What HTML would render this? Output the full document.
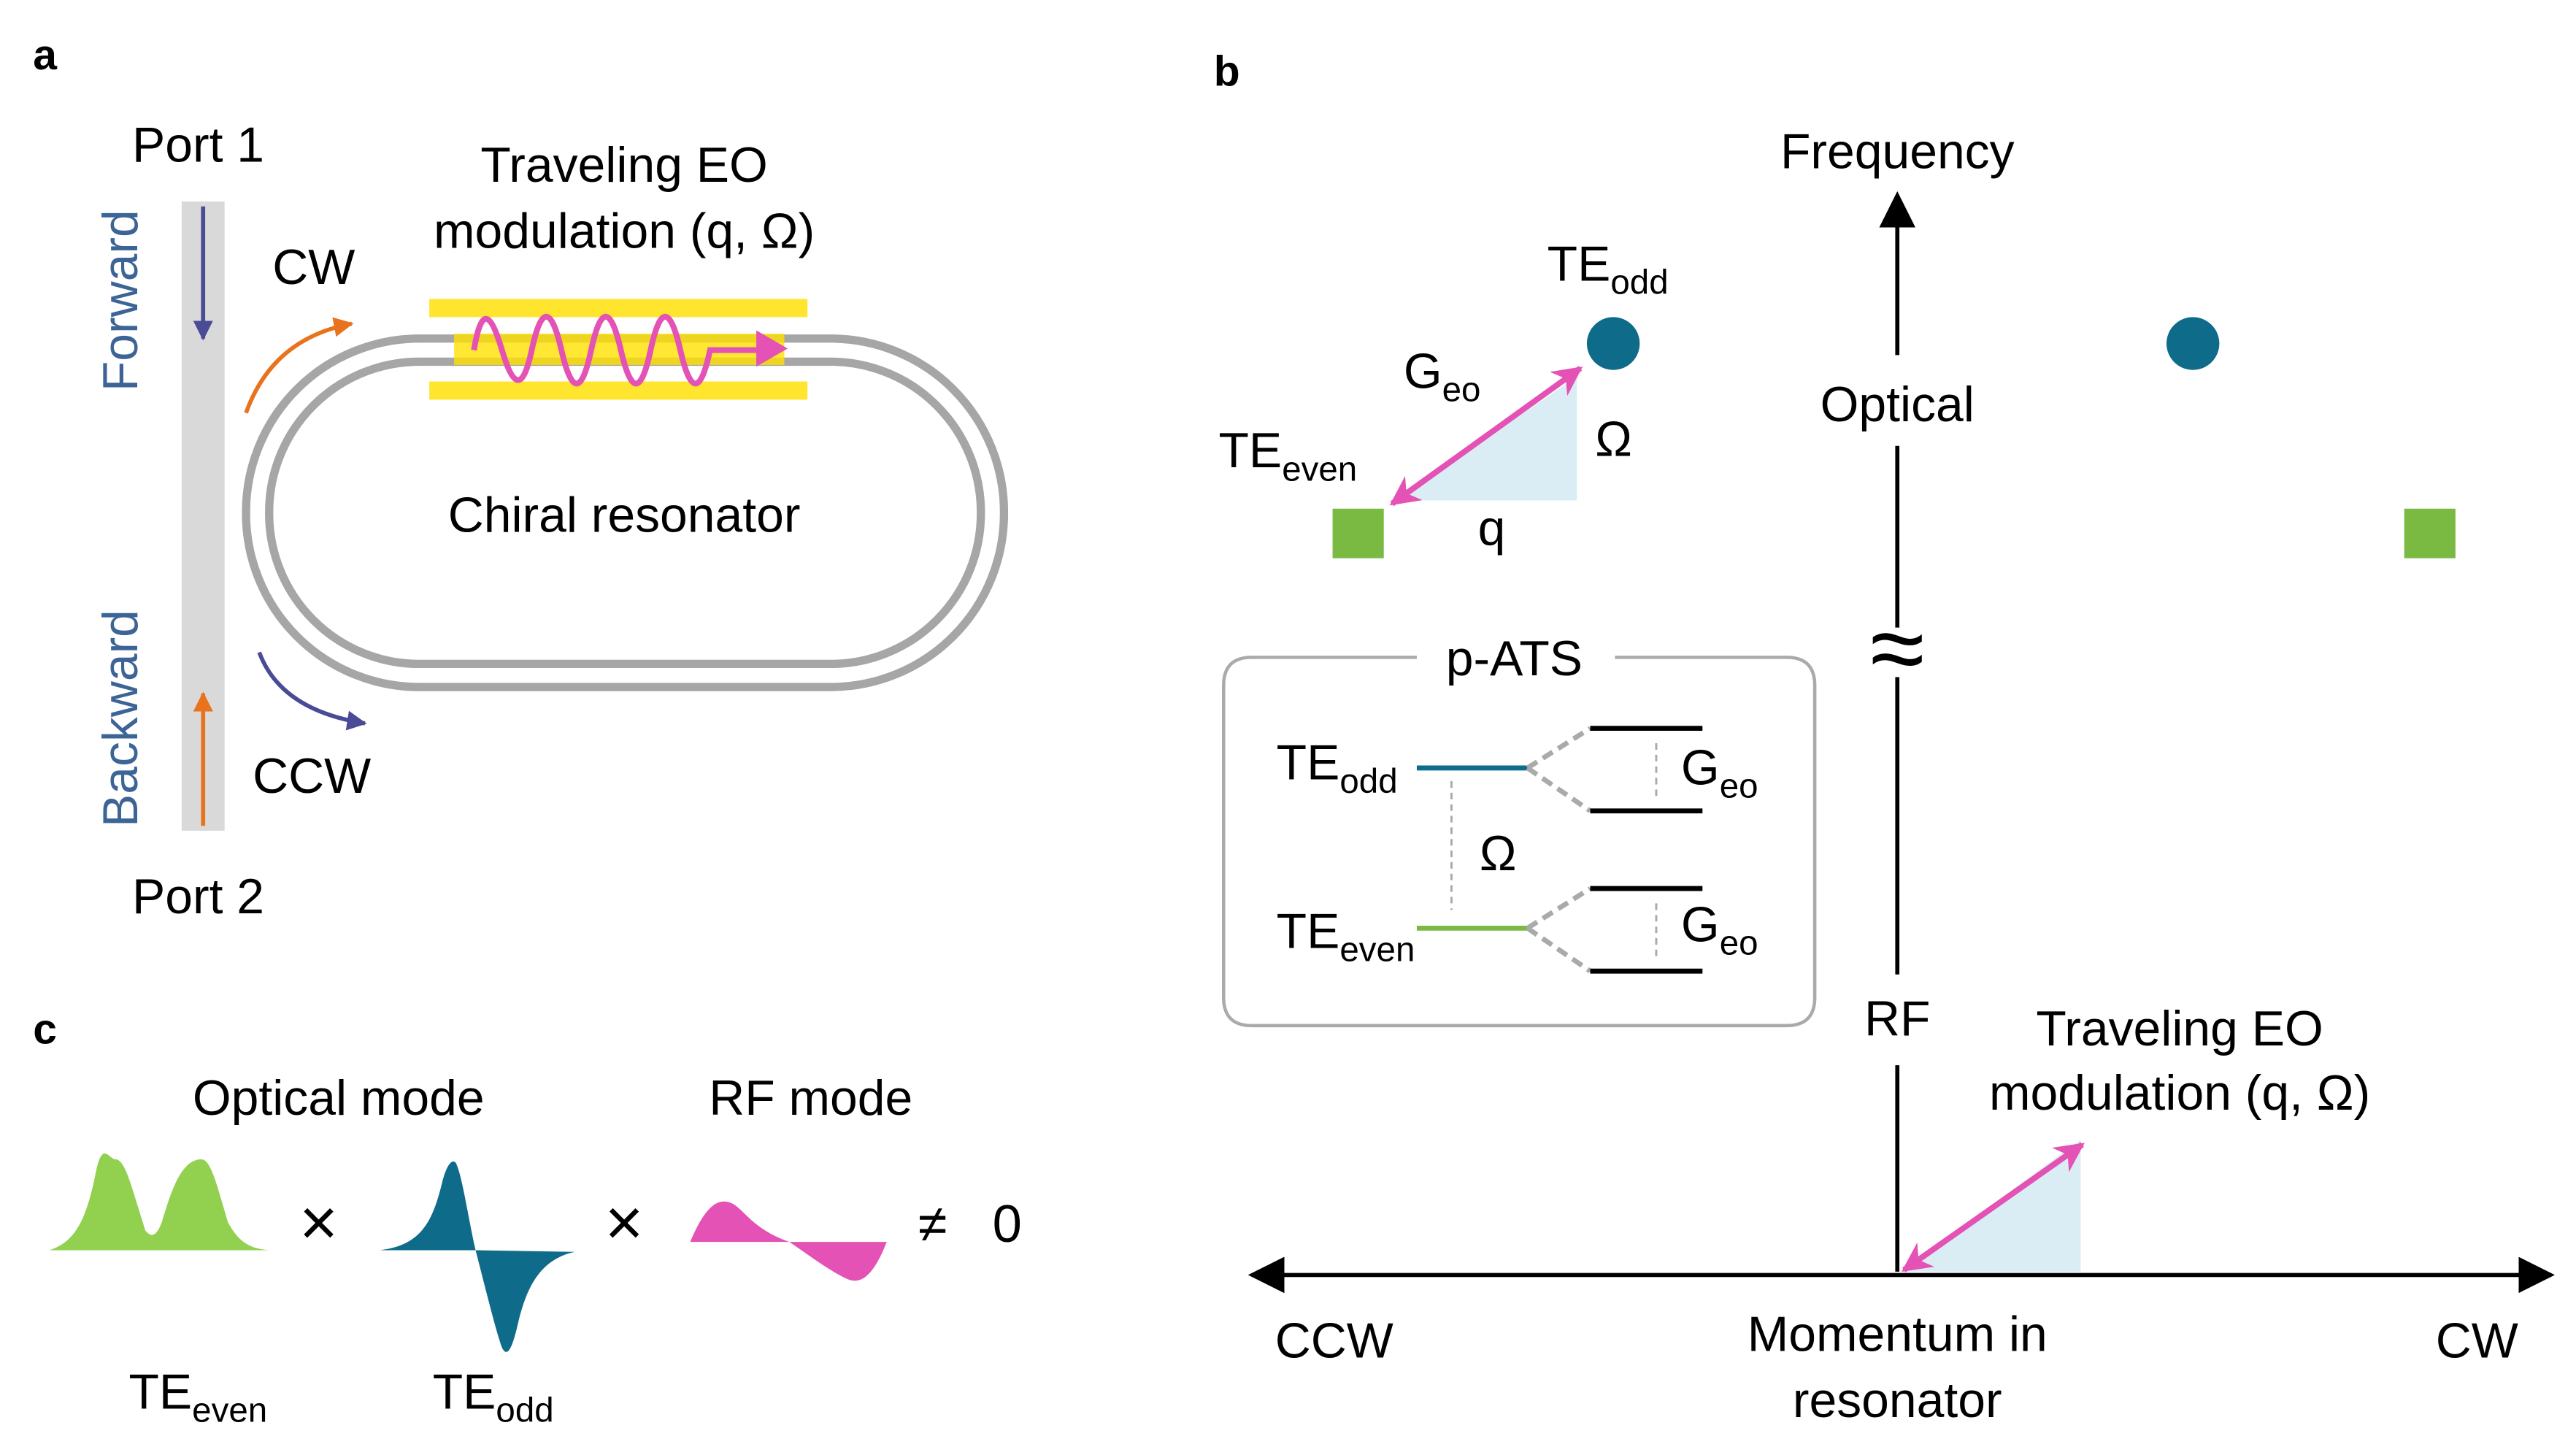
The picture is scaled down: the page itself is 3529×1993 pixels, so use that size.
<!DOCTYPE html>
<html><head><meta charset="utf-8"><style>
html,body{margin:0;padding:0;background:#fff;}
svg{display:block;}
text{font-family:"Liberation Sans",sans-serif;fill:#000;}
</style></head><body>
<svg width="3529" height="1993" viewBox="0 0 1560 881" xmlns="http://www.w3.org/2000/svg">
<defs>
<marker id="akb" viewBox="0 0 10 10" refX="9" refY="5" markerWidth="22" markerHeight="22" orient="auto-start-reverse" markerUnits="userSpaceOnUse"><path d="M0,0 L10,5 L0,10 z" fill="#000"/></marker>
<marker id="am" viewBox="0 0 10 10" refX="9" refY="5" markerWidth="18" markerHeight="18" orient="auto-start-reverse" markerUnits="userSpaceOnUse"><path d="M0,0 L10,5 L0,10 L3,5 z" fill="#e352b4"/></marker>
<marker id="ao" viewBox="0 0 10 10" refX="9" refY="5" markerWidth="12" markerHeight="12" orient="auto" markerUnits="userSpaceOnUse"><path d="M0,0 L10,5 L0,10 z" fill="#e8731c"/></marker>
<marker id="ap" viewBox="0 0 10 10" refX="9" refY="5" markerWidth="12" markerHeight="12" orient="auto" markerUnits="userSpaceOnUse"><path d="M0,0 L10,5 L0,10 z" fill="#4b4a96"/></marker>
</defs>

<text x="20" y="42" font-size="26" font-weight="bold">a</text>
<text x="735" y="52" font-size="26" font-weight="bold">b</text>
<text x="20" y="632" font-size="26" font-weight="bold">c</text>

<text x="80" y="98" font-size="30">Port 1</text>
<text x="80" y="553" font-size="30">Port 2</text>
<rect x="110" y="122" width="26" height="381" fill="#d9d9d9"/>
<text transform="translate(83,182) rotate(-90)" font-size="30" text-anchor="middle" style="fill:#3d6496">Forward</text>
<text transform="translate(83,435) rotate(-90)" font-size="30" text-anchor="middle" style="fill:#3d6496">Backward</text>
<line x1="123" y1="125" x2="123" y2="205" stroke="#4b4a96" stroke-width="2.5" marker-end="url(#ap)"/>
<line x1="123" y1="500" x2="123" y2="420" stroke="#e8731c" stroke-width="2.5" marker-end="url(#ao)"/>

<rect x="149" y="205" width="459" height="211" rx="105" fill="none" stroke="#a6a6a6" stroke-width="5"/>
<rect x="163" y="219" width="431" height="183" rx="91" fill="none" stroke="#a6a6a6" stroke-width="5"/>
<rect x="260" y="181" width="229" height="11" fill="#ffe52e"/>
<rect x="260" y="231" width="229" height="11" fill="#ffe52e"/>
<rect x="275" y="202" width="200" height="19" fill="#ffe100" opacity="0.8"/>
<path d="M287,212 C292,182 298,192 304,212 S316,240 322,212 S334,186 340,212 S352,240 358,212 S370,186 376,212 S388,240 394,212 S406,186 412,212 S424,240 430,212 L462,212" fill="none" stroke="#e352b4" stroke-width="3.5"/>
<path d="M458,200 L477,211 L458,222 z" fill="#e352b4"/>

<path d="M149,250 Q165,205 213,196" fill="none" stroke="#e8731c" stroke-width="2.5" marker-end="url(#ao)"/>
<path d="M157,395 Q170,430 221,438" fill="none" stroke="#4b4a96" stroke-width="2.5" marker-end="url(#ap)"/>
<text x="165" y="172" font-size="30">CW</text>
<text x="153" y="480" font-size="30">CCW</text>
<text x="378" y="110" font-size="30" text-anchor="middle">Traveling EO</text>
<text x="378" y="150" font-size="30" text-anchor="middle">modulation (q, Ω)</text>
<text x="378" y="322" font-size="30" text-anchor="middle">Chiral resonator</text>

<line x1="1149" y1="770" x2="1149" y2="645" stroke="#000" stroke-width="2.5"/>
<line x1="1149" y1="590" x2="1149" y2="410" stroke="#000" stroke-width="2.5"/>
<line x1="1149" y1="380" x2="1149" y2="270" stroke="#000" stroke-width="2.5"/>
<line x1="1149" y1="215" x2="1149" y2="118" stroke="#000" stroke-width="2.5" marker-end="url(#akb)"/>
<text x="1149" y="413" font-size="60" text-anchor="middle">≈</text>
<text x="1149" y="102" font-size="30" text-anchor="middle">Frequency</text>
<text x="1149" y="255" font-size="30" text-anchor="middle">Optical</text>
<text x="1149" y="627" font-size="30" text-anchor="middle">RF</text>
<line x1="758" y1="772" x2="1545" y2="772" stroke="#000" stroke-width="2.5" marker-start="url(#akb)" marker-end="url(#akb)"/>
<text x="808" y="822" font-size="30" text-anchor="middle">CCW</text>
<text x="1500" y="822" font-size="30" text-anchor="middle">CW</text>
<text x="1149" y="818" font-size="30" text-anchor="middle">Momentum in</text>
<text x="1149" y="858" font-size="30" text-anchor="middle">resonator</text>

<circle cx="977" cy="208" r="16" fill="#0e6b8a"/>
<circle cx="1328" cy="208" r="16" fill="#0e6b8a"/>
<rect x="807" y="308" width="31" height="30" fill="#7ab942"/>
<rect x="1456" y="308" width="31" height="30" fill="#7ab942"/>
<path d="M845,303 L955,228 L955,303 z" fill="#dbedf4"/>
<line x1="843" y1="305" x2="957" y2="223" stroke="#e352b4" stroke-width="3.5" marker-start="url(#am)" marker-end="url(#am)"/>
<text x="850" y="235" font-size="30">G<tspan font-size="21" dy="8">eo</tspan></text>
<text x="966" y="276" font-size="30">Ω</text>
<text x="895" y="330" font-size="30">q</text>
<text x="937" y="170" font-size="30">TE<tspan font-size="21" dy="8">odd</tspan></text>
<text x="738" y="283" font-size="30">TE<tspan font-size="21" dy="8">even</tspan></text>

<path d="M858,398 L758,398 Q741,398 741,415 L741,604 Q741,621 758,621 L1082,621 Q1099,621 1099,604 L1099,415 Q1099,398 1082,398 L978,398" fill="none" stroke="#aaa" stroke-width="2"/>
<text x="917" y="409" font-size="30" text-anchor="middle">p-ATS</text>
<text x="773" y="472" font-size="30">TE<tspan font-size="21" dy="8">odd</tspan></text>
<text x="773" y="574" font-size="30">TE<tspan font-size="21" dy="8">even</tspan></text>
<line x1="858" y1="465" x2="925" y2="465" stroke="#0e6b8a" stroke-width="3"/>
<line x1="858" y1="562" x2="925" y2="562" stroke="#7ab942" stroke-width="3"/>
<path d="M925,465 L963,441 M925,465 L963,491 M925,562 L963,538 M925,562 L963,588" stroke="#aaa" stroke-width="3" stroke-dasharray="7,4" fill="none"/>
<path d="M963,441 H1031 M963,491 H1031 M963,538 H1031 M963,588 H1031" stroke="#000" stroke-width="3"/>
<path d="M1003,450 V483 M1003,547 V580 M879,473 V551" stroke="#aaa" stroke-width="1.3" stroke-dasharray="4,3"/>
<text x="1018" y="475" font-size="30">G<tspan font-size="21" dy="8">eo</tspan></text>
<text x="1018" y="570" font-size="30">G<tspan font-size="21" dy="8">eo</tspan></text>
<text x="896" y="527" font-size="30">Ω</text>

<path d="M1152,770 L1260,690 L1260,770 z" fill="#dbedf4"/>
<line x1="1153" y1="769" x2="1261" y2="693" stroke="#e352b4" stroke-width="3.5" marker-start="url(#am)" marker-end="url(#am)"/>
<text x="1320" y="633" font-size="30" text-anchor="middle">Traveling EO</text>
<text x="1320" y="672" font-size="30" text-anchor="middle">modulation (q, Ω)</text>

<text x="205" y="675" font-size="30" text-anchor="middle">Optical mode</text>
<text x="491" y="675" font-size="30" text-anchor="middle">RF mode</text>
<path d="M30,757 C45,752 52,740 58,710 C62,690 66,702 70,702 C76,702 80,720 88,745 C92,750 95,748 98,740 C104,720 110,702 122,702 C128,702 132,720 138,740 C145,753 152,756 163,757 z" fill="#92d050"/>
<text x="193" y="754" font-size="40" text-anchor="middle">×</text>
<path d="M230,757 C255,754 262,740 268,715 C271,704 274,702 276,704 C280,712 283,735 288,757 z" fill="#0e6b8a"/>
<path d="M288,757 L348,758 C330,762 320,775 314,800 C310,818 307,822 304,816 C300,805 294,780 288,757 z" fill="#0e6b8a"/>
<text x="378" y="754" font-size="40" text-anchor="middle">×</text>
<path d="M418,752 C428,728 436,725 444,729 C452,734 456,744 478,752 z" fill="#e352b4"/>
<path d="M478,752 L537,752 C528,775 520,778 512,774 C500,768 490,760 478,752 z" fill="#e352b4"/>
<text x="556" y="752" font-size="32">≠</text>
<text x="601" y="752" font-size="32">0</text>
<text x="78" y="853" font-size="30">TE<tspan font-size="21" dy="8">even</tspan></text>
<text x="262" y="853" font-size="30">TE<tspan font-size="21" dy="8">odd</tspan></text>
</svg>
</body></html>
